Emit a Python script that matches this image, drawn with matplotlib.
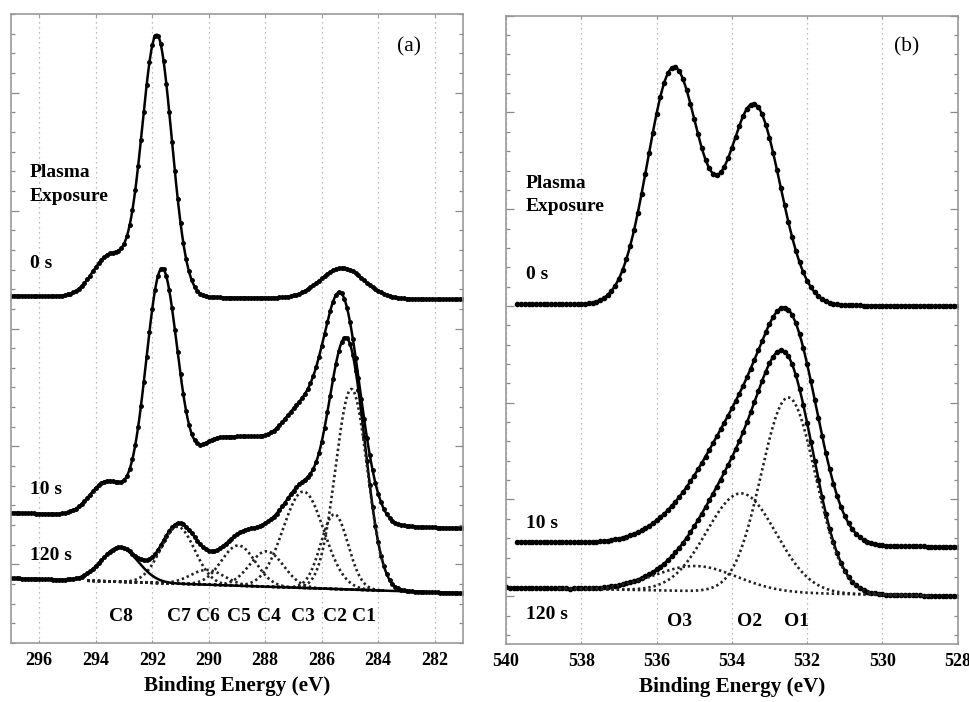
import numpy as np
import matplotlib
matplotlib.use("Agg")
import matplotlib.pyplot as plt
from matplotlib.ticker import MultipleLocator, FixedLocator

plt.rcParams['font.family'] = ['Liberation Serif', 'DejaVu Serif']

# ---------------- panel (a): C 1s ----------------
a_xlim = (297.0, 281.0)
a_xticks = [296, 294, 292, 290, 288, 286, 284, 282]
a_step = 0.1

# linear baselines: intensity at 297 eV and at 281 eV
a0_base = (17.66, 17.48)
a0_centers = [293.5, 291.84, 285.28]
a0_heights = [2.1, 13.3, 1.55]
a0_widths = [0.6, 0.53, 0.78]

a10_base = (6.63, 5.83)
a10_centers = [293.6, 291.66, 290.1, 289.1, 288.0, 286.75, 285.3]
a10_heights = [1.75, 12.6, 2.4, 2.8, 2.5, 4.6, 11.2]
a10_widths = [0.6, 0.57, 0.6, 0.75, 0.75, 0.7, 0.66]

a120_base = (3.30, 2.53)
a120_names = ["C1", "C2", "C3", "C4", "C5", "C6", "C7", "C8"]
a120_centers = [284.95, 285.55, 286.65, 287.95, 288.95, 290.05, 291.1, 293.15]
a120_heights = [10.2, 3.8, 4.9, 1.8, 2.05, 0.75, 2.9, 1.75]
a120_widths = [0.56, 0.48, 0.72, 0.6, 0.6, 0.6, 0.6, 0.65]
a120_fit_range = (294.3, 283.8)
a120_label_x = [284.51, 285.52, 286.66, 287.88, 288.93, 290.03, 291.05, 293.11]

# ---------------- panel (b): O 1s ----------------
b_xlim = (540.0, 528.0)
b_xticks = [540, 538, 536, 534, 532, 530, 528]
b_step = 0.1

b0_base = (17.1, 17.0)
b0_centers = [535.55, 533.41]
b0_heights = [12.2, 10.3]
b0_widths = [0.69, 0.69]
b0_range = (539.7, 528.0)

b10_base = (4.82, 4.55)
b10_centers = [534.8, 533.6, 532.4]
b10_heights = [2.0, 5.2, 9.6]
b10_widths = [1.05, 0.9, 0.72]
b10_range = (539.7, 528.0)

b120_base = (2.45, 2.0)
b120_names = ["O1", "O2", "O3"]
b120_centers = [532.5, 533.75, 534.96]
b120_heights = [10.1, 5.1, 1.3]
b120_widths = [0.72, 0.92, 1.09]
b120_fit_range = (538.6, 528.7)
b120_label_x = [532.28, 533.52, 535.4]


def baseline(E, base, xlim):
    hi, lo = xlim
    return base[0] + (base[1] - base[0]) * (hi - E) / (hi - lo)


def gauss(E, c, h, w):
    return h * np.exp(-(E - c) ** 2 / (2.0 * w ** 2))


def total(E, base, xlim, centers, heights, widths):
    y = baseline(E, base, xlim)
    for c, h, w in zip(centers, heights, widths):
        y = y + gauss(E, c, h, w)
    return y


def grid(r, step):
    return np.arange(r[0], r[1] - 1e-9, -step)


fig = plt.figure(figsize=(9.7, 7.02), dpi=100)
axA = fig.add_axes([11 / 970, 59 / 702, 452 / 970, 629 / 702])
axB = fig.add_axes([506 / 970, 58 / 702, 451.7 / 970, 628.3 / 702])

LINE = dict(color='black', lw=1.8, solid_capstyle='round')
MARK = dict(color='black', ls='none', marker='o', ms=2.5)
DOT = dict(color='#222222', lw=1.9, ls=(0, (0.9, 1.1)))
bold = dict(fontweight='bold', fontsize=14)


def style(ax, xlim, xticks, ylim, majors):
    ax.set_xlim(*xlim)
    ax.set_ylim(*ylim)
    ax.set_xticks(xticks)
    ax.set_xticklabels([str(t) for t in xticks], fontweight='bold', fontsize=13)
    ax.yaxis.set_major_locator(FixedLocator(majors))
    ax.yaxis.set_minor_locator(MultipleLocator(1))
    ax.set_yticklabels([])
    ax.tick_params(axis='y', which='major', direction='in', length=6, width=0.9,
                   color='#8a8a8a', left=True, right=True)
    ax.tick_params(axis='y', which='minor', direction='in', length=2.8, width=0.9,
                   color='#8a8a8a', left=True, right=True)
    ax.tick_params(axis='x', which='major', direction='in', length=2.5, width=0.8,
                   color='#9a9a9a', top=True, bottom=True, pad=6.5)
    for s in ax.spines.values():
        s.set_color('#999999')
        s.set_linewidth(1.2)
    ax.grid(axis='x', color='#a8a8a8', lw=0.9, ls=(0, (1, 3)))
    ax.set_axisbelow(True)
    ax.set_xlabel('Binding Energy (eV)', fontweight='bold', fontsize=15.2, labelpad=5)


# ----- panel (a) -----
style(axA, a_xlim, a_xticks, (0, 32), [4, 10, 16, 22, 28])
Ea = grid(a_xlim, a_step)
Ef = np.linspace(a_xlim[0], a_xlim[1], 1200)

for base, cs, hs, ws in [(a0_base, a0_centers, a0_heights, a0_widths),
                         (a10_base, a10_centers, a10_heights, a10_widths),
                         (a120_base, a120_centers, a120_heights, a120_widths)]:
    axA.plot(Ef, total(Ef, base, a_xlim, cs, hs, ws), **LINE)
    axA.plot(Ea, total(Ea, base, a_xlim, cs, hs, ws), **MARK)

Ec = np.linspace(a120_fit_range[0], a120_fit_range[1], 800)
for name, c, h, w in zip(a120_names, a120_centers, a120_heights, a120_widths):
    yc = baseline(Ec, a120_base, a_xlim) + gauss(Ec, c, h, w)
    if name == "C8":
        Es = np.linspace(a120_fit_range[0], a_xlim[1], 1000)
        axA.plot(Es, baseline(Es, a120_base, a_xlim) + gauss(Es, c, h, w), **LINE)
    else:
        axA.plot(Ec, yc, **DOT)

for name, x in zip(a120_names, a120_label_x):
    axA.text(x, 1.34, name, ha='center', va='center', **bold)

axA.text(296.33, 23.96, 'Plasma', ha='left', va='center', **bold)
axA.text(296.33, 22.74, 'Exposure', ha='left', va='center', **bold)
axA.text(296.33, 19.33, '0 s', ha='left', va='center', **bold)
axA.text(296.33, 7.83, '10 s', ha='left', va='center', **bold)
axA.text(296.33, 4.43, '120 s', ha='left', va='center', **bold)
axA.text(282.9, 30.32, '(a)', ha='center', va='center', fontsize=15.5)

# ----- panel (b) -----
style(axB, b_xlim, b_xticks, (-0.47, 32), [2, 7, 12, 17, 22, 27, 32])

for base, cs, hs, ws, rng in [(b0_base, b0_centers, b0_heights, b0_widths, b0_range),
                              (b10_base, b10_centers, b10_heights, b10_widths, b10_range),
                              (b120_base, b120_centers, b120_heights, b120_widths, b_xlim)]:
    Ef = np.linspace(rng[0], rng[1], 1200)
    Ed = grid(rng, b_step)
    axB.plot(Ef, total(Ef, base, b_xlim, cs, hs, ws), **LINE)
    axB.plot(Ed, total(Ed, base, b_xlim, cs, hs, ws), **dict(MARK, ms=3.0))

Ec = np.linspace(b120_fit_range[0], b120_fit_range[1], 800)
for name, c, h, w in zip(b120_names, b120_centers, b120_heights, b120_widths):
    axB.plot(Ec, baseline(Ec, b120_base, b_xlim) + gauss(Ec, c, h, w), **DOT)

for name, x in zip(b120_names, b120_label_x):
    axB.text(x, 0.68, name, ha='center', va='center', **bold)

axB.text(539.47, 23.34, 'Plasma', ha='left', va='center', **bold)
axB.text(539.47, 22.15, 'Exposure', ha='left', va='center', **bold)
axB.text(539.47, 18.65, '0 s', ha='left', va='center', **bold)
axB.text(539.47, 5.77, '10 s', ha='left', va='center', **bold)
axB.text(539.47, 1.03, '120 s', ha='left', va='center', **bold)
axB.text(529.36, 30.38, '(b)', ha='center', va='center', fontsize=15.5)

fig.savefig('out.png', dpi=100)
